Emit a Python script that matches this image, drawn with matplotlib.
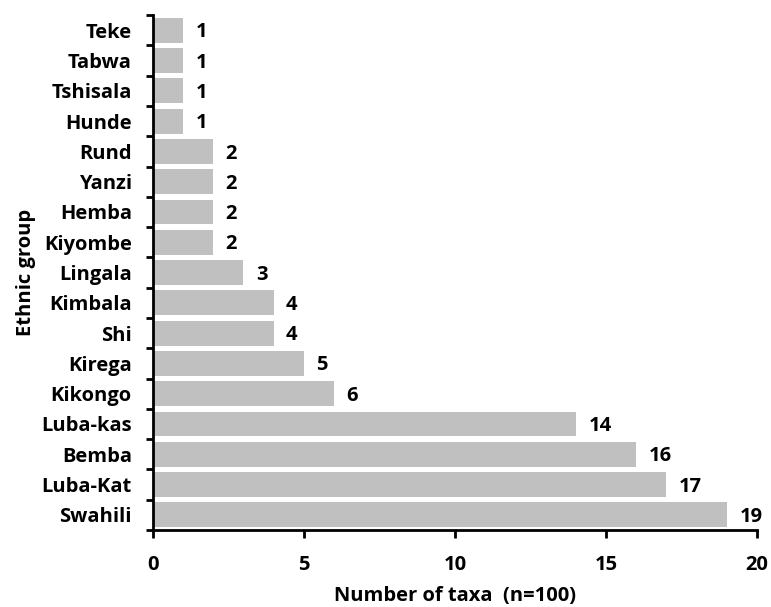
import numpy as np
import matplotlib
matplotlib.use("Agg")
import matplotlib.pyplot as plt

groups = ["Teke", "Tabwa", "Tshisala", "Hunde", "Rund", "Yanzi", "Hemba", "Kiyombe",
          "Lingala", "Kimbala", "Shi", "Kirega", "Kikongo", "Luba-kas", "Bemba",
          "Luba-Kat", "Swahili"]
taxa = [1, 1, 1, 1, 2, 2, 2, 2, 3, 4, 4, 5, 6, 14, 16, 17, 19]
xticks = [0, 5, 10, 15, 20]

plt.rcParams['font.family'] = ['Open Sans', 'DejaVu Sans']
plt.rcParams['font.weight'] = 'bold'
fs = 14.5

fig = plt.figure(figsize=(7.71, 6.07), dpi=100)
ax = fig.add_axes([0.198, 0.127, 0.784, 0.848])

y = np.arange(len(groups))
ax.barh(y, taxa, height=0.82, color='#c0c0c0')
for yi, v in zip(y, taxa):
    ax.annotate(str(v), (v, yi), xytext=(9, -1.5), textcoords='offset points',
                va='center', ha='left', fontsize=fs, fontweight='bold')

ax.set_ylim(len(groups) - 0.5, -0.5)
ax.set_xlim(0, 20)
ax.set_yticks(y)
ax.set_yticklabels(groups, fontsize=fs, fontweight='bold')
ax.set_yticks(np.arange(-0.5, len(groups), 1), minor=True)
ax.tick_params(axis='y', which='major', length=0, pad=15)
ax.tick_params(axis='y', which='minor', length=5, width=2, direction='out')
ax.set_xticks(xticks)
ax.set_xticklabels([str(t) for t in xticks], fontsize=fs, fontweight='bold')
ax.tick_params(axis='x', length=6, width=2, direction='out', pad=12)

for s in ['top', 'right']:
    ax.spines[s].set_visible(False)
for s in ['left', 'bottom']:
    ax.spines[s].set_linewidth(2)

ax.set_xlabel("Number of taxa  (n=100)", fontsize=fs, fontweight='bold', labelpad=8)
ax.set_ylabel("Ethnic group", fontsize=fs, fontweight='bold', labelpad=4)

fig.savefig("out.png", dpi=100)
